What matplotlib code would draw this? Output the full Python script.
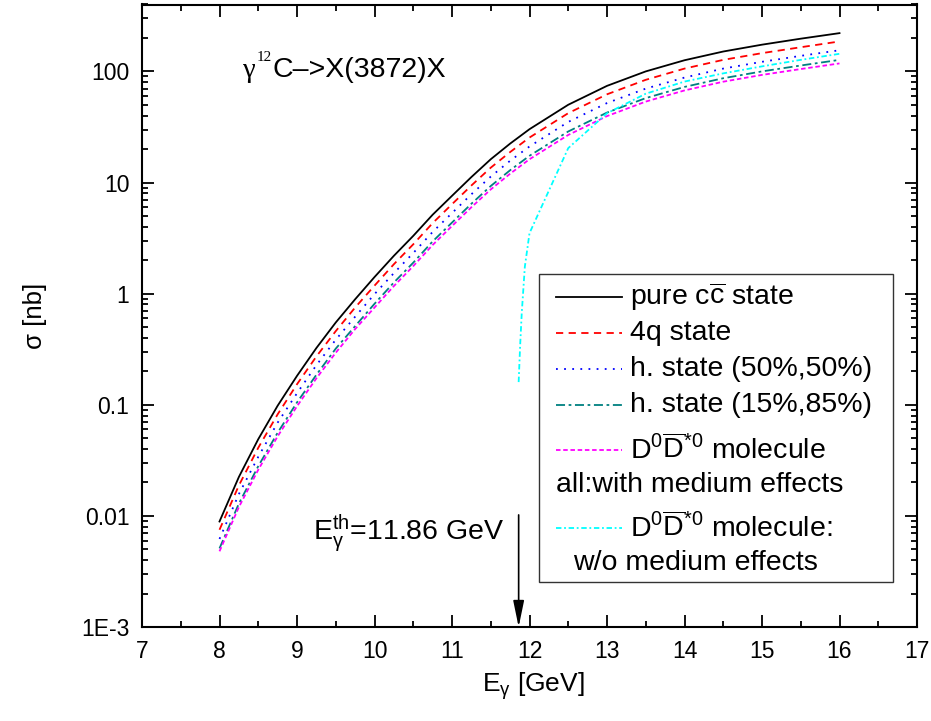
import numpy as np
import matplotlib
matplotlib.use("Agg")
from matplotlib import pyplot as plt
from matplotlib.ticker import MultipleLocator, LogLocator, NullFormatter
from matplotlib.patches import Rectangle

plt.rcParams['font.family'] = ['Liberation Sans', 'DejaVu Sans']
plt.rcParams['mathtext.fontset'] = 'custom'
plt.rcParams['mathtext.rm'] = 'Liberation Sans'
plt.rcParams['mathtext.it'] = 'Liberation Sans:italic'
plt.rcParams['mathtext.bf'] = 'Liberation Sans:bold'

# photon energy grid (GeV)
e_gamma = [8, 8.25, 8.5, 8.75, 9, 9.25, 9.5, 9.75, 10, 10.25, 10.5, 10.75, 11, 11.25, 11.5, 11.75, 12,
           12.5, 13, 13.5, 14, 14.5, 15, 15.5, 16]

# cross sections (nb), with medium effects
sigma_ccbar = [0.0089, 0.0224, 0.049, 0.098, 0.182, 0.324, 0.55, 0.89, 1.41, 2.19, 3.31, 5.13, 7.59, 11.2, 16.2, 22.4, 30.2,
               50.1, 74.1, 100, 126, 151, 174, 197, 221]
sigma_4q = [0.0075, 0.0188, 0.041, 0.082, 0.153, 0.272, 0.46, 0.75, 1.18, 1.84, 2.78, 4.31, 6.38, 9.4, 13.6, 18.8, 25.4,
            42.1, 62.2, 84, 106, 127, 146, 165, 186]
sigma_h50 = [0.0062, 0.0157, 0.034, 0.069, 0.127, 0.227, 0.385, 0.62, 0.99, 1.53, 2.32, 3.59, 5.31, 7.84, 11.3, 15.7, 21.1,
             35.1, 51.9, 70, 88, 106, 122, 138, 155]
sigma_h15 = [0.0051, 0.0129, 0.028, 0.056, 0.105, 0.186, 0.32, 0.51, 0.81, 1.26, 1.90, 2.95, 4.36, 6.44, 9.3, 12.9, 17.4,
             28.8, 42.6, 57.5, 72.5, 86.8, 100, 113, 127]
sigma_mol = [0.0048, 0.0120, 0.026, 0.052, 0.097, 0.173, 0.294, 0.48, 0.75, 1.17, 1.77, 2.74, 4.06, 5.99, 8.67, 12.0, 16.2,
             26.8, 39.6, 53.5, 67.4, 80.8, 93, 105, 118]

# molecule without medium effects (starts at threshold)
e_free = [11.86, 11.88, 11.90, 11.94, 12.0, 12.5, 13, 13.5, 14, 14.5, 15, 15.5, 16]
sigma_free = [0.16, 0.35, 0.67, 1.75, 3.5, 20.4, 42, 63, 81, 96, 111, 127, 144]

E_th = 11.86

ytick_vals = [1e-3, 1e-2, 1e-1, 1, 10, 100]
ytick_labels = ["1E-3", "0.01", "0.1", "1", "10", "100"]

styles = [
    (sigma_ccbar, 'black', '-', "pure c$\\overline{\\mathregular{c}}$ state"),
    (sigma_4q, 'red', (0, (4, 3)), "4q state"),
    (sigma_h50, 'blue', (0, (1, 3.5)), "h. state (50%,50%)"),
    (sigma_h15, '#008080', (0, (5, 2, 1.5, 2)), "h. state (15%,85%)"),
    (sigma_mol, 'magenta', (0, (2.5, 1.5)), "D$^{\\mathregular{0}}\\overline{\\mathregular{D}}^{\\mathregular{*0}}$ molecule"),
]
free_style = ('cyan', (0, (3, 1.5, 1, 1.5)))

fig = plt.figure(figsize=(9.31, 7.21), dpi=100)
ax = fig.add_axes([142 / 931, 94 / 721, 775 / 931, 622.5 / 721])

for ys, c, ls, lab in styles:
    ax.plot(e_gamma, ys, color=c, linestyle=ls, lw=1.3)
ax.plot(e_free, sigma_free, color=free_style[0], linestyle=free_style[1], lw=1.3)

ax.set_yscale('log')
ax.set_xlim(7, 17)
ax.set_ylim(1e-3, 400)
ax.set_yticks(ytick_vals, ytick_labels)
ax.yaxis.set_minor_locator(LogLocator(base=10, subs=np.arange(2, 10)))
ax.yaxis.set_minor_formatter(NullFormatter())
ax.xaxis.set_major_locator(MultipleLocator(1))
ax.xaxis.set_minor_locator(MultipleLocator(0.5))

ax.tick_params(which='both', direction='in', top=True, right=True, labelsize=16.5, width=1.3, pad=9)
ax.tick_params(which='major', length=8.5)
ax.tick_params(which='minor', length=4.5)
for sp in ax.spines.values():
    sp.set_linewidth(1.5)

ax.set_xlabel("E$_{\\mathregular{γ}}$ [GeV]", fontsize=19)
ax.set_ylabel("σ [nb]", fontsize=18.5)
ax.xaxis.set_label_coords(0.505, -0.07)
ax.yaxis.set_label_coords(-0.122, 0.5)

# reaction label
ax.text(0.1303, 0.884, "γ", transform=ax.transAxes, family='Liberation Serif', fontsize=20.5)
ax.text(0.1484, 0.9097, "12", transform=ax.transAxes, family='Liberation Serif', fontsize=11)
ax.text(0.169, 0.884, "C–>X(3872)X", transform=ax.transAxes, fontsize=20.5)

# threshold arrow
ax.annotate('', xy=(E_th, 1e-3), xytext=(E_th, 0.0102),
            arrowprops=dict(arrowstyle='-|>,head_length=1.6,head_width=0.33', color='k',
                            lw=1.2, shrinkA=0, shrinkB=0, mutation_scale=10))
ax.text(0.2203, 0.1409, "E$_{\\mathregular{γ}}^{\\mathregular{th}}$=11.86 GeV",
        transform=ax.transAxes, fontsize=20.5)

# legend drawn by hand (two text-only rows)
ax.add_patch(Rectangle((0.5123, 0.0728), 0.4567, 0.4942, transform=ax.transAxes,
                       fill=True, facecolor='white', edgecolor='#333333', lw=1.0, zorder=5))
row_y = [0.5296, 0.4718, 0.414, 0.3566, 0.2843]
hx0, hx1, tx = 0.5342, 0.619, 0.6297
leg_fs = 20.5
for (ys, c, ls, lab), yy in zip(styles, row_y):
    ax.plot([hx0, hx1], [yy, yy], color=c, linestyle=ls, lw=1.3, transform=ax.transAxes, zorder=6)
    ax.text(tx, yy, lab, transform=ax.transAxes, fontsize=leg_fs, va='center', zorder=6)
ax.text(hx0, 0.2281, "all:with medium effects", transform=ax.transAxes, fontsize=leg_fs, va='center', zorder=6)
ax.plot([hx0, hx1], [0.1586, 0.1586], color=free_style[0], linestyle=free_style[1], lw=1.3,
        transform=ax.transAxes, zorder=6)
ax.text(tx, 0.1586, "D$^{\\mathregular{0}}\\overline{\\mathregular{D}}^{\\mathregular{*0}}$ molecule:",
        transform=ax.transAxes, fontsize=leg_fs, va='center', zorder=6)
ax.text(0.5561, 0.1023, "w/o medium effects", transform=ax.transAxes, fontsize=leg_fs, va='center', zorder=6)

fig.savefig("out.png", dpi=100)
